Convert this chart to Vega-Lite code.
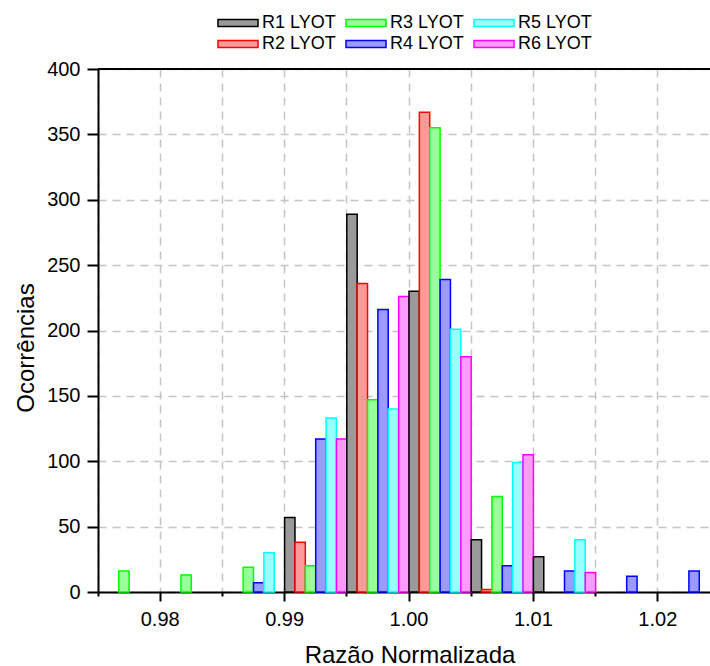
{
  "$schema": "https://vega.github.io/schema/vega-lite/v6.json",
  "width": 612,
  "height": 523,
  "autosize": {"type": "none"},
  "padding": {"left": 98, "top": 69, "right": 0, "bottom": 74},
  "config": {
    "font": "Liberation Sans",
    "view": {"stroke": null},
    "axis": {
      "domainColor": "black",
      "domainWidth": 2,
      "tickColor": "black",
      "tickWidth": 2,
      "gridColor": "#c4c4c4",
      "gridDash": [8, 6],
      "gridWidth": 1.5,
      "labelFontSize": 20,
      "labelColor": "black",
      "titleFontSize": 24,
      "titleFontWeight": "normal",
      "titleColor": "black"
    }
  },
  "data": {
    "values": [
      {"bin": 0.975, "series": "R3 LYOT", "n": 16},
      {"bin": 0.98, "series": "R3 LYOT", "n": 13},
      {"bin": 0.985, "series": "R3 LYOT", "n": 19},
      {"bin": 0.985, "series": "R4 LYOT", "n": 7},
      {"bin": 0.985, "series": "R5 LYOT", "n": 30},
      {"bin": 0.99, "series": "R1 LYOT", "n": 57},
      {"bin": 0.99, "series": "R2 LYOT", "n": 38},
      {"bin": 0.99, "series": "R3 LYOT", "n": 20},
      {"bin": 0.99, "series": "R4 LYOT", "n": 117},
      {"bin": 0.99, "series": "R5 LYOT", "n": 133},
      {"bin": 0.99, "series": "R6 LYOT", "n": 117},
      {"bin": 0.995, "series": "R1 LYOT", "n": 289},
      {"bin": 0.995, "series": "R2 LYOT", "n": 236},
      {"bin": 0.995, "series": "R3 LYOT", "n": 147},
      {"bin": 0.995, "series": "R4 LYOT", "n": 216},
      {"bin": 0.995, "series": "R5 LYOT", "n": 140},
      {"bin": 0.995, "series": "R6 LYOT", "n": 226},
      {"bin": 1.0, "series": "R1 LYOT", "n": 230},
      {"bin": 1.0, "series": "R2 LYOT", "n": 367},
      {"bin": 1.0, "series": "R3 LYOT", "n": 355},
      {"bin": 1.0, "series": "R4 LYOT", "n": 239},
      {"bin": 1.0, "series": "R5 LYOT", "n": 201},
      {"bin": 1.0, "series": "R6 LYOT", "n": 180},
      {"bin": 1.005, "series": "R1 LYOT", "n": 40},
      {"bin": 1.005, "series": "R2 LYOT", "n": 2},
      {"bin": 1.005, "series": "R3 LYOT", "n": 73},
      {"bin": 1.005, "series": "R4 LYOT", "n": 20},
      {"bin": 1.005, "series": "R5 LYOT", "n": 99},
      {"bin": 1.005, "series": "R6 LYOT", "n": 105},
      {"bin": 1.01, "series": "R1 LYOT", "n": 27},
      {"bin": 1.01, "series": "R4 LYOT", "n": 16},
      {"bin": 1.01, "series": "R5 LYOT", "n": 40},
      {"bin": 1.01, "series": "R6 LYOT", "n": 15},
      {"bin": 1.015, "series": "R4 LYOT", "n": 12},
      {"bin": 1.02, "series": "R4 LYOT", "n": 16}
    ]
  },
  "layer": [
    {
      "mark": {"type": "bar", "strokeWidth": 1.5},
      "encoding": {
        "x": {
          "field": "bin",
          "type": "ordinal",
          "title": "Razão Normalizada",
          "scale": {
            "domain": [0.975, 0.98, 0.985, 0.99, 0.995, 1.0, 1.005, 1.01, 1.015, 1.02],
            "range": [0, 622],
            "paddingInner": 0,
            "paddingOuter": 0
          },
          "axis": {
            "bandPosition": 0,
            "grid": true,
            "labelExpr": "abs(datum.value*100 - round(datum.value*100)) < 0.001 ? format(datum.value, '.2f') : ''",
            "tickSize": {"condition": {"test": "abs(datum.value*100 - round(datum.value*100)) < 0.001", "value": 9}, "value": 4},
            "labelAngle": 0,
            "labelOffset": -31.1,
            "labelPadding": 8,
            "labelFlush": false,
            "labelOverlap": false,
            "titleX": 311.5,
            "titleY": 70,
            "titleBaseline": "alphabetic",
            "titleAnchor": null,
            "titleAlign": "center"
          }
        },
        "xOffset": {
          "field": "series",
          "type": "nominal",
          "scale": {
            "domain": ["R1 LYOT", "R2 LYOT", "R3 LYOT", "R4 LYOT", "R5 LYOT", "R6 LYOT"],
            "paddingInner": 0,
            "paddingOuter": 0
          }
        },
        "y": {
          "field": "n",
          "type": "quantitative",
          "stack": null,
          "title": "Ocorrências",
          "scale": {"domain": [0, 400], "nice": false},
          "axis": {
            "values": [0, 25, 50, 75, 100, 125, 150, 175, 200, 225, 250, 275, 300, 325, 350, 375, 400],
            "labelExpr": "datum.value % 50 === 0 ? datum.label : ''",
            "tickSize": {"condition": {"test": "datum.value % 50 === 0", "value": 11}, "value": 6},
            "labelPadding": 7,
            "titleX": -65,
            "titleY": 278.5,
            "titleBaseline": "alphabetic",
            "titleAlign": "center",
            "titleAngle": 270
          }
        },
        "fill": {
          "field": "series",
          "type": "nominal",
          "scale": {
            "domain": ["R1 LYOT", "R2 LYOT", "R3 LYOT", "R4 LYOT", "R5 LYOT", "R6 LYOT"],
            "range": ["#9a9a9a", "#ff9a9a", "#9aff9a", "#9a9aff", "#9affff", "#ff9aff"]
          },
          "legend": {
            "orient": "none",
            "direction": "vertical",
            "legendX": 131,
            "legendY": -55,
            "columns": 3,
            "symbolType": "M-2.86,-0.5H2.86V0.5H-2.86Z",
            "symbolSize": 196,
            "symbolStrokeWidth": 1.5,
            "labelFontSize": 18,
            "labelColor": "black",
            "labelOffset": 15,
            "columnPadding": 6,
            "rowPadding": 3,
            "title": null
          }
        },
        "stroke": {
          "field": "series",
          "type": "nominal",
          "scale": {
            "domain": ["R1 LYOT", "R2 LYOT", "R3 LYOT", "R4 LYOT", "R5 LYOT", "R6 LYOT"],
            "range": ["#000000", "#ff0000", "#00ff00", "#0000ff", "#00ffff", "#ff00ff"]
          },
          "legend": {
            "orient": "none",
            "direction": "vertical",
            "legendX": 131,
            "legendY": -55,
            "columns": 3,
            "symbolType": "M-2.86,-0.5H2.86V0.5H-2.86Z",
            "symbolSize": 196,
            "symbolStrokeWidth": 1.5,
            "labelFontSize": 18,
            "labelColor": "black",
            "labelOffset": 15,
            "columnPadding": 6,
            "rowPadding": 3,
            "title": null
          }
        }
      }
    },
    {
      "mark": {"type": "rule", "color": "black", "strokeWidth": 2},
      "encoding": {"y": {"datum": 400}}
    }
  ]
}
